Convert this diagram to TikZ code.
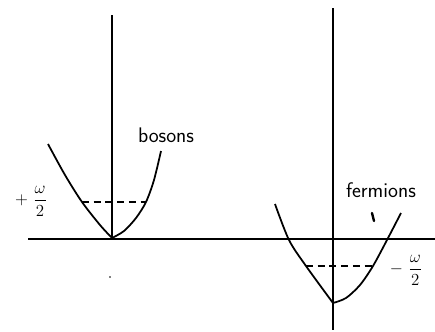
\documentclass[tikz,border=0pt]{standalone}
\usepackage{amsmath}
\usepackage{tikz}
\usetikzlibrary{positioning}

\begin{document}
\begin{tikzpicture}[x=0.03cm, y=-0.03cm,
    every node/.style={font=\fontsize{18}{20}\selectfont\sffamily},
    axisline/.style={line width=1.1pt},
    band/.style={line width=1.5pt, line join=round},
    level/.style={line width=1pt, dash pattern=on 6pt off 4pt}]
  \useasboundingbox (0,0) rectangle (435,332);

  % axes
  \draw[axisline] (28,239) -- (435,239);
  \draw[axisline] (112,15) -- (112,239);
  \draw[axisline] (333,8) -- (333,330);
  \fill (110,277) circle (0.8pt);

  % bosons
  \draw[band] plot[smooth] coordinates {(48,144) (65,175) (82,202) (100,225) (112,238)};
  \draw[band] plot[smooth] coordinates {(112,238) (124,231) (136,218) (146,202) (154,180) (161,151)};
  \draw[level] (82,202) -- (146,202);
  \node (bos) at (166,135) {bosons};
  \node[font=\fontsize{14}{16}\selectfont] (plus) at (31,201) {$+\ \dfrac{\omega}{2}$};

  % fermions
  \draw[band] plot[smooth] coordinates {(275,204) (289,240) (306,266) (333,303)};
  \draw[band] plot[smooth] coordinates {(333,303) (346,298) (360,285) (373,266) (387,240) (401,213)};
  \draw[level] (306,266) -- (373,266);
  \node (ferm) at (381,190) {fermions};
  \draw[line width=2pt, line cap=round] (372,213) -- (374,221);
  \node[font=\fontsize{14}{16}\selectfont] (minus) at (406,270) {$-\ \dfrac{\omega}{2}$};
\end{tikzpicture}
\end{document}
